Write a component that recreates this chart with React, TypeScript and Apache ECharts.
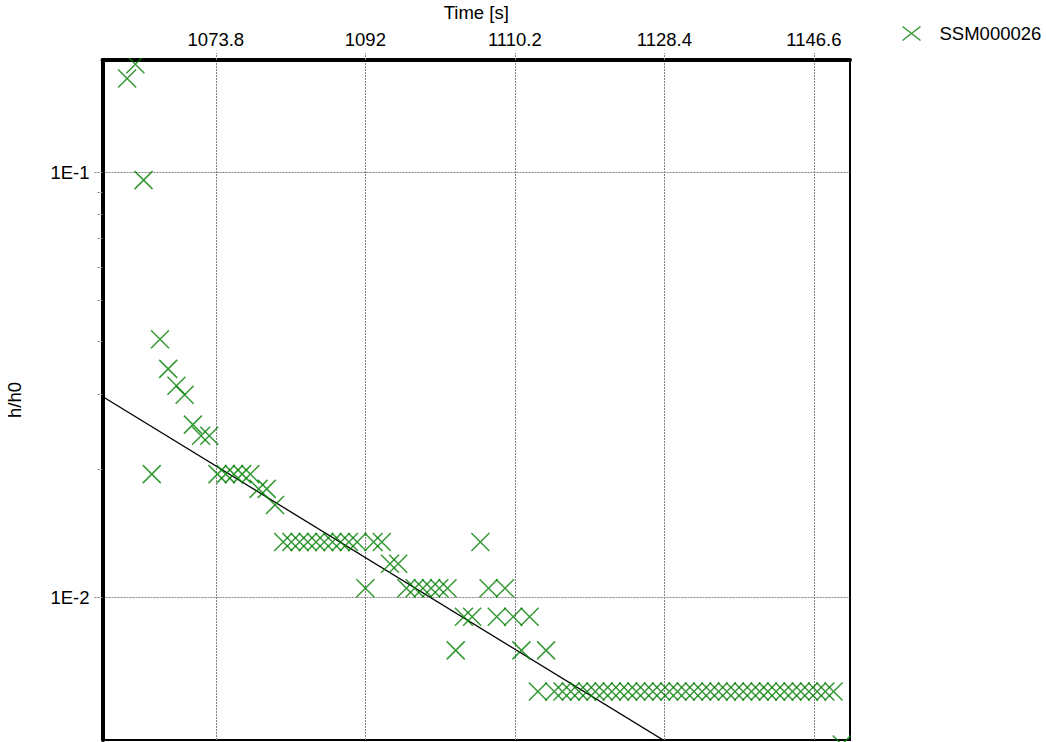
import React, { useEffect, useRef } from 'react';
import * as echarts from 'echarts';

// Sample times [s] and relative head h/h0 for well SSM000026
const times = [
  1063, 1064, 1065, 1066, 1067, 1068, 1069, 1070, 1071, 1072,
  1073, 1074, 1075, 1076, 1077, 1078, 1079, 1080, 1081, 1082,
  1083, 1084, 1085, 1086, 1087, 1088, 1089, 1090, 1091, 1092,
  1093, 1094, 1095, 1096, 1097, 1098, 1099, 1100, 1101, 1102,
  1103, 1104, 1105, 1106, 1107, 1108, 1109, 1110, 1111, 1112,
  1113, 1114, 1115, 1116, 1117, 1118, 1119, 1120, 1121, 1122,
  1123, 1124, 1125, 1126, 1127, 1128, 1129, 1130, 1131, 1132,
  1133, 1134, 1135, 1136, 1137, 1138, 1139, 1140, 1141, 1142,
  1143, 1144, 1145, 1146, 1147, 1148, 1149, 1150,
];

const ratios = [
  0.1665, 0.18, 0.096, 0.0195, 0.0405, 0.0345, 0.0315, 0.03, 0.0255, 0.024,
  0.024, 0.0195, 0.0195, 0.0195, 0.0195, 0.0195, 0.018, 0.018, 0.0165, 0.0135,
  0.0135, 0.0135, 0.0135, 0.0135, 0.0135, 0.0135, 0.0135, 0.0135, 0.0135, 0.0105,
  0.0135, 0.0135, 0.012, 0.012, 0.0105, 0.0105, 0.0105, 0.0105, 0.0105, 0.0105,
  0.0075, 0.009, 0.009, 0.0135, 0.0105, 0.009, 0.0105, 0.009, 0.0075, 0.009,
  0.006, 0.0075, 0.006, 0.006, 0.006, 0.006, 0.006, 0.006, 0.006, 0.006,
  0.006, 0.006, 0.006, 0.006, 0.006, 0.006, 0.006, 0.006, 0.006, 0.006,
  0.006, 0.006, 0.006, 0.006, 0.006, 0.006, 0.006, 0.006, 0.006, 0.006,
  0.006, 0.006, 0.006, 0.006, 0.006, 0.006, 0.006, 0.0045,
];

// Fitted straight line (in log space) through the recovery data
const fitLine = [
  [1060, 0.0297],
  [1151, 0.00248],
];

const timeTicks = [1073.8, 1092, 1110.2, 1128.4, 1146.6];
const decadeTicks = [0.01, 0.1];
const minorTicks = [0.02, 0.03, 0.04, 0.05, 0.06, 0.07, 0.08, 0.09];

const seriesName = 'SSM000026';
const FONT = '"Liberation Sans", Arial, sans-serif';
const FONT_SIZE = 18.5;
const GREEN = '#008000';
const GRID_GREY = '#808080';
const GRID_DASH = [2, 1];
const CROSS = 'path://M0,0L18,18M18,0L0,18';
const LEGEND_CROSS = 'path://M0,0L18,14M18,0L0,14';

export default function App() {
  const ref = useRef<HTMLDivElement>(null);

  useEffect(() => {
    if (!ref.current) return;
    const chart = echarts.init(ref.current, undefined, { renderer: 'svg' });

    const points = times.map((t, i) => [t, ratios[i]]);
    const gridLine = { color: GRID_GREY, type: GRID_DASH, width: 1 };

    chart.setOption({
      animation: false,
      backgroundColor: '#fff',
      textStyle: { fontFamily: FONT, color: '#000' },
      grid: {
        left: 102.5,
        top: 60,
        right: 196,
        bottom: 2,
        outerBoundsMode: 'none',
        containLabel: false,
        show: true,
        borderColor: '#000',
        borderWidth: 2,
        backgroundColor: 'transparent',
      },
      // masks the part of markers poking above the plot frame
      graphic: [
        {
          type: 'rect',
          z: 50,
          silent: true,
          shape: { x: 106, y: 40, width: 70, height: 18 },
          style: { fill: '#fff' },
        },
      ],
      legend: {
        data: [seriesName],
        left: 895,
        top: 19,
        itemWidth: 46,
        itemHeight: 14,
        icon: LEGEND_CROSS,
        itemStyle: { color: 'none', borderColor: GREEN, borderWidth: 1.5 },
        textStyle: { fontSize: FONT_SIZE, color: '#000', fontFamily: FONT },
      },
      xAxis: [
        {
          type: 'value',
          position: 'top',
          min: 1060,
          max: 1151,
          name: 'Time [s]',
          nameLocation: 'middle',
          nameGap: 38,
          nameTextStyle: { fontSize: FONT_SIZE, color: '#000', fontFamily: FONT },
          axisLine: { show: true, onZero: false, lineStyle: { color: '#000', width: 4 } },
          axisTick: {
            show: true,
            customValues: timeTicks,
            length: 7,
            lineStyle: gridLine,
          },
          axisLabel: {
            customValues: timeTicks,
            fontSize: FONT_SIZE,
            color: '#000',
            fontFamily: FONT,
            margin: 11,
            formatter: (v: number) => String(Math.round(v * 10) / 10),
          },
          splitLine: { show: true, lineStyle: gridLine },
        },
      ],
      yAxis: [
        {
          type: 'log',
          logBase: 10,
          min: 0.004613,
          max: 0.18415,
          name: 'h/h0',
          nameLocation: 'middle',
          nameGap: 79,
          nameTextStyle: { fontSize: FONT_SIZE, color: '#000', fontFamily: FONT },
          axisLine: { show: true, onZero: false, lineStyle: { color: '#000', width: 4 } },
          axisTick: {
            show: true,
            customValues: decadeTicks,
            length: 9,
            lineStyle: gridLine,
          },
          axisLabel: {
            customValues: decadeTicks,
            fontSize: FONT_SIZE,
            color: '#000',
            fontFamily: FONT,
            margin: 13,
            formatter: (v: number) => '1E' + Math.round(Math.log10(v)),
          },
          splitLine: { show: true, lineStyle: gridLine },
        },
        {
          type: 'log',
          logBase: 10,
          min: 0.004613,
          max: 0.18415,
          position: 'left',
          axisLine: { show: false },
          axisLabel: { show: false },
          splitLine: { show: false },
          axisTick: {
            show: true,
            customValues: minorTicks,
            length: 6,
            lineStyle: gridLine,
          },
        },
      ],
      series: [
        {
          name: 'fit',
          type: 'line',
          data: fitLine,
          symbol: 'none',
          showSymbol: false,
          silent: true,
          clip: true,
          lineStyle: { color: '#000', width: 1.3 },
          z: 2,
        },
        {
          name: seriesName,
          type: 'scatter',
          data: points,
          symbol: CROSS,
          symbolSize: 18,
          clip: false,
          itemStyle: { color: 'none', borderColor: GREEN, borderWidth: 1.5 },
          z: 3,
        },
      ],
    });

    return () => chart.dispose();
  }, []);

  return (
    <div
      ref={ref}
      style={{ position: 'fixed', left: 0, top: 0, width: 1046, height: 742, background: '#fff' }}
    />
  );
}
